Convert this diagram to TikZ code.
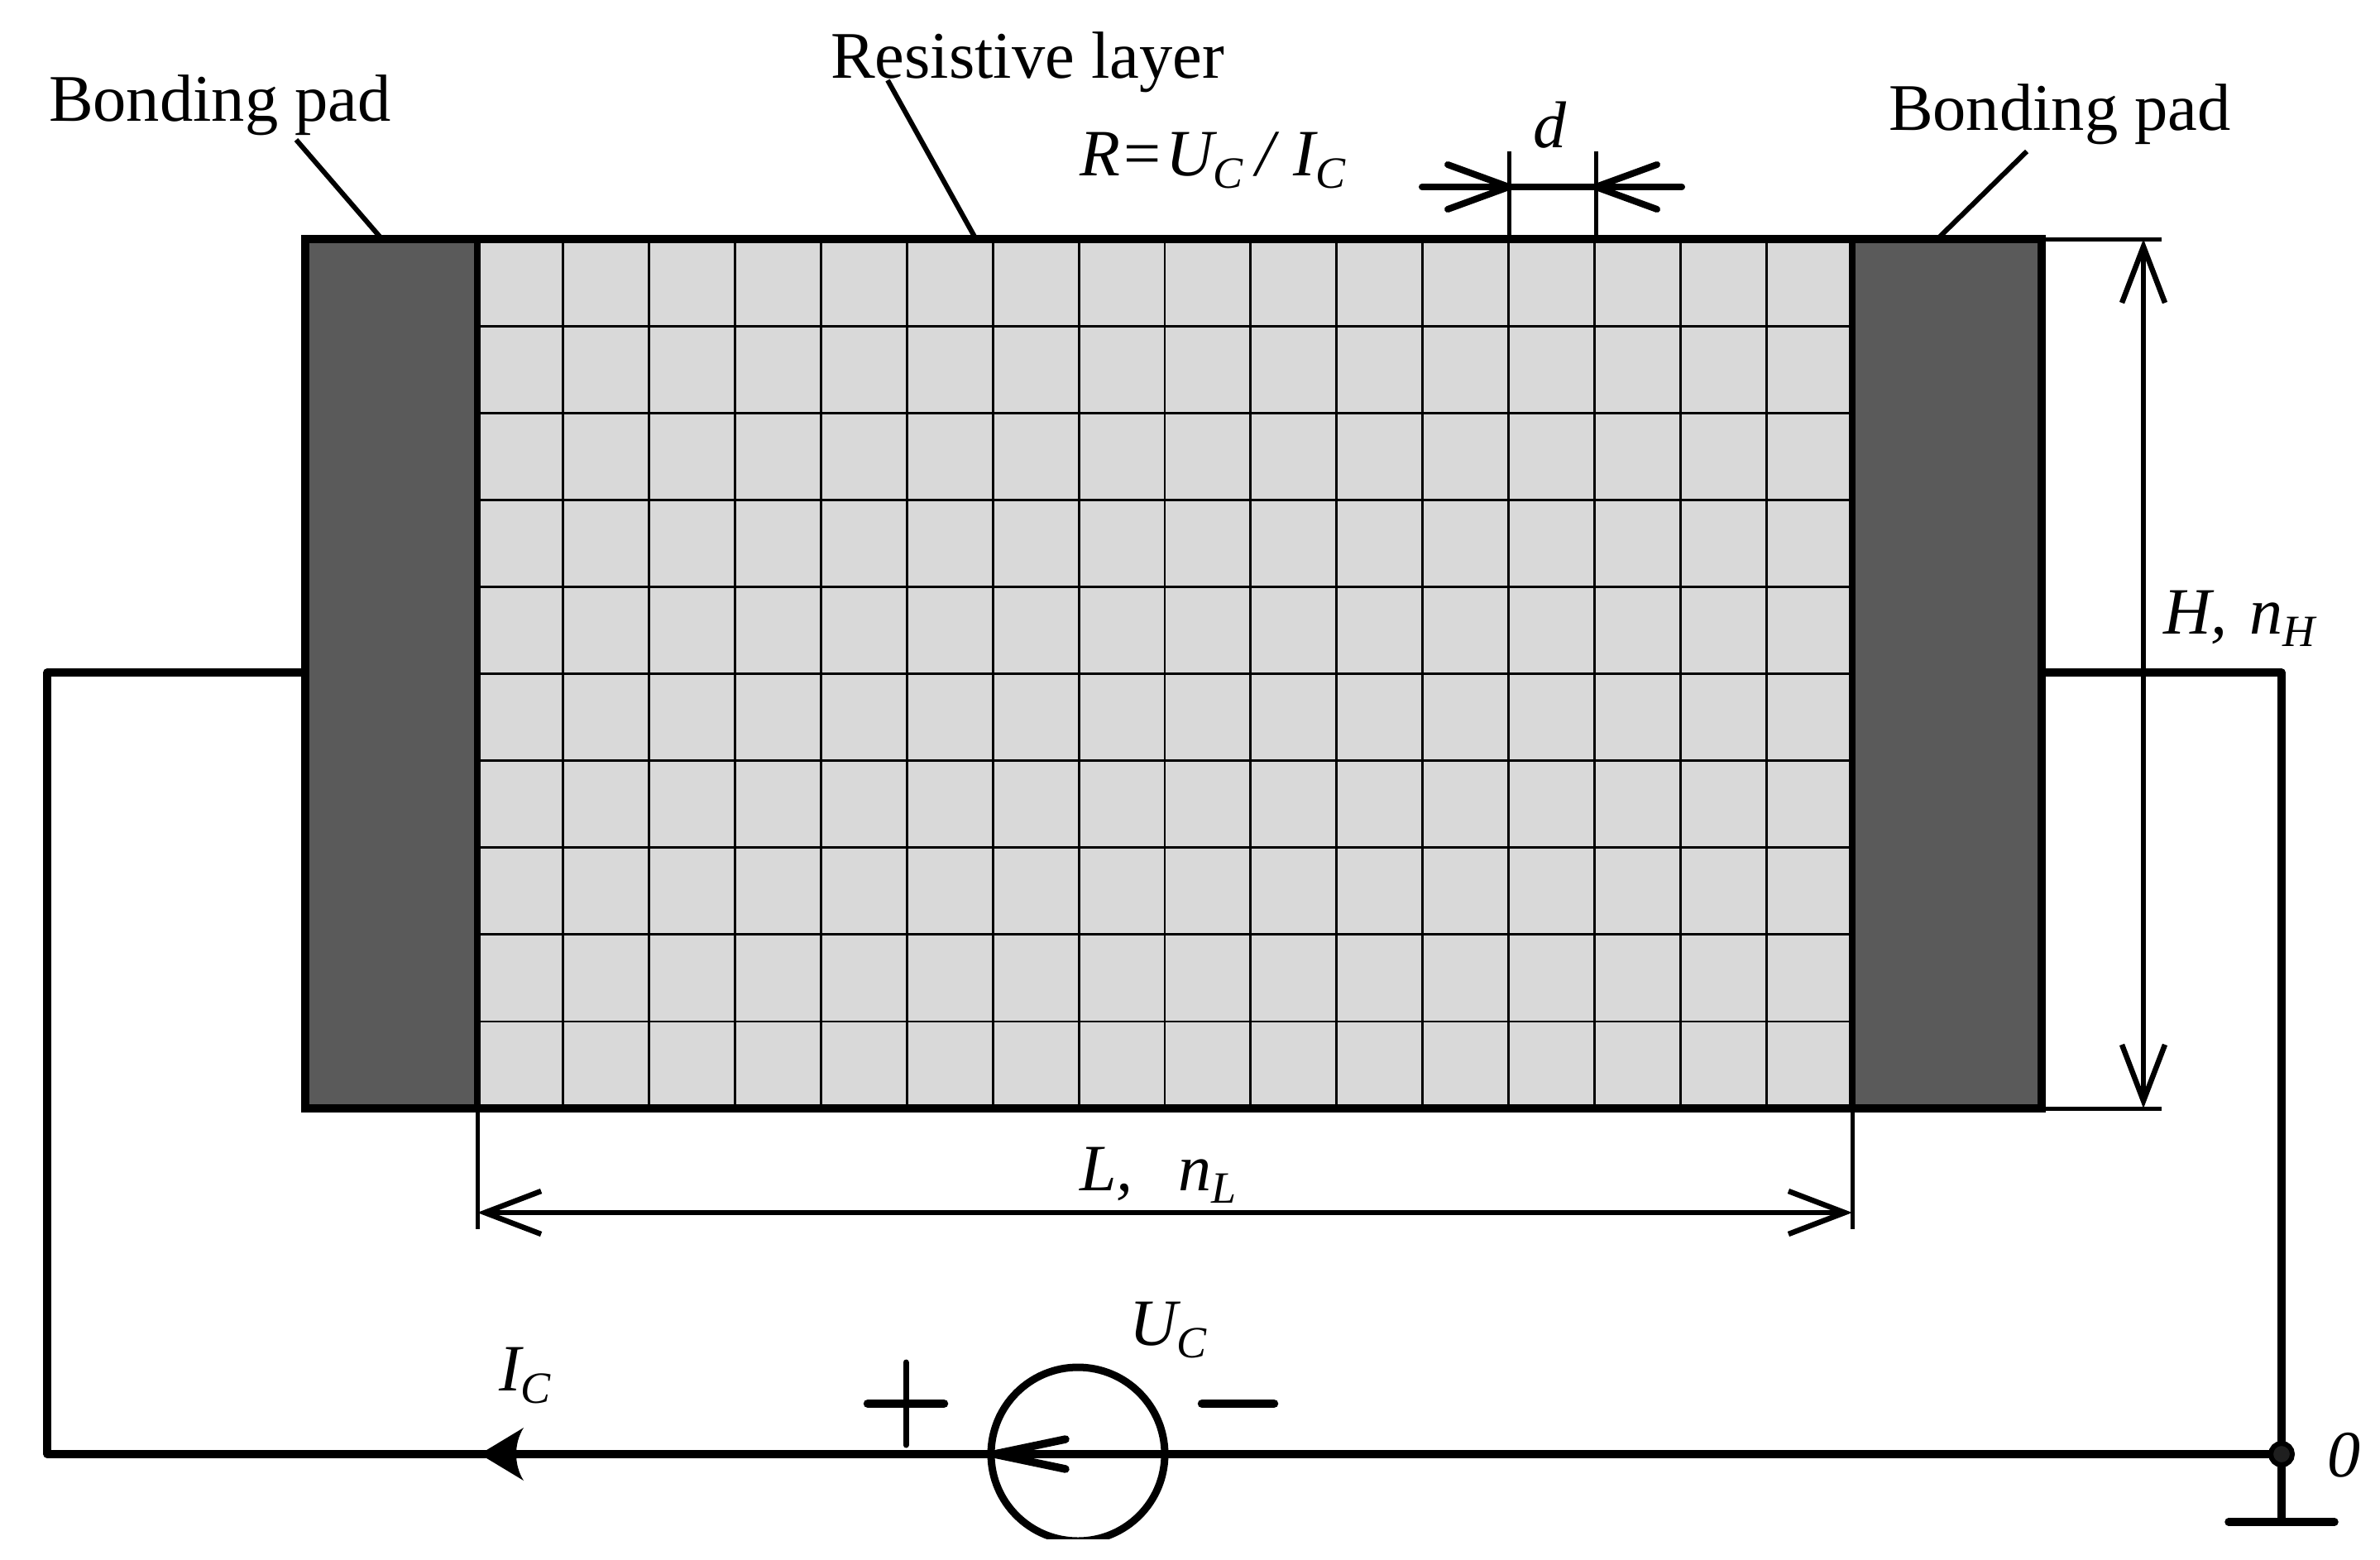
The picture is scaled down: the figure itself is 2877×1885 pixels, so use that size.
\documentclass[tikz,border=0pt]{standalone}
\usepackage{fontspec}
\setmainfont{Liberation Serif}
\usetikzlibrary{arrows.meta}
\newcommand{\lowsub}[1]{\raisebox{-15pt}{\fontsize{54}{54}\selectfont #1}}
\tikzset{
  x=1pt,y=-1pt,
  lbl/.style={anchor=base west,inner sep=0pt,outer sep=0pt,font=\fontsize{80.5}{80}\selectfont},
  var/.style={lbl,font=\fontsize{80}{80}\selectfont\itshape},
  outline/.style={line width=10.5pt,line join=miter},
  gridline/.style={line width=2.8pt,black},
  wire/.style={line width=9.5pt,line cap=round,line join=round},
  leader/.style={line width=6pt},
  extline/.style={line width=5pt},
  dimarrow/.style={line width=5.5pt,{Straight Barb[length=68pt,width=52pt,line width=6.5pt]}-{Straight Barb[length=68pt,width=52pt,line width=6.5pt]}},
  sign/.style={line width=10.5pt,line cap=round},
}
\definecolor{padgrey}{HTML}{5A5A5A}
\definecolor{layergrey}{HTML}{D9D9D9}
\begin{document}
\begin{tikzpicture}
\useasboundingbox (0,0) rectangle (2877,1885);
% key points
\coordinate (tl) at (369,289);
\coordinate (br) at (2468,1340);
\coordinate (gl) at (577,289);
\coordinate (gr) at (2239,1340);
% fills
\fill[padgrey] (369,289) rectangle (577,1340);
\fill[padgrey] (2239,289) rectangle (2468,1340);
\fill[layergrey] (577,289) rectangle (2239,1340);
% grid
\foreach \i in {1,...,15} \draw[gridline] ({577+\i*103.875},289) -- ({577+\i*103.875},1340);
\foreach \j in {1,...,9} \draw[gridline] (577,{289+\j*105.1}) -- (2239,{289+\j*105.1});
% outlines
\draw[outline] (tl) rectangle (br);
\draw[line width=8.5pt] (577,289) -- (577,1340);
\draw[line width=8.5pt] (2239,289) -- (2239,1340);
% circuit
\coordinate (wl) at (369,813);
\coordinate (wr) at (2468,813);
\coordinate (gnd) at (2758,1758);
\coordinate (gndb) at (2758,1840);
\draw[wire] (wl) -- (57,813) -- (57,1758) -- (gnd);
\draw[wire] (wr) -- (2758,813) -- (gnd) -- (gndb);
\draw[wire] (2694,1840) -- (2822,1840);
\draw[line width=6pt,fill=black!88] (gnd) circle (13);
% source
\coordinate (src) at (1303,1758);
\begin{scope}
\clip (1100,1600) rectangle (1500,1860);
\draw[line width=9pt] (src) circle (105);
\end{scope}
\draw[line width=9.5pt,line cap=round] (1288,1740) -- (1202,1758) -- (1288,1776);
% current arrow
\fill (580,1758) -- (633,1726) .. controls (621,1745) and (621,1771) .. (633,1790) -- cycle;
% signs
\draw[sign] (1049,1697) -- (1141,1697);
\draw[line width=7pt,line cap=round] (1095,1647) -- (1095,1747);
\draw[sign] (1453,1697) -- (1540,1697);
% labels
\node[lbl] (bpl) at (59,146) {Bonding pad};
\node[lbl] (res) at (1004,94) {Resistive layer};
\node[lbl] (bpr) at (2283,157) {Bonding pad};
\node[var] (rlab) at (1305,212) {R{\upshape\hspace{5pt}=\hspace{5pt}}U\lowsub{C}\hspace{16pt}/\hspace{23pt}I\lowsub{C}};
\node[var] (dlab) at (1853,178) {d};
\node[var] (hlab) at (2615,766) {H,\hspace{27pt}n\lowsub{H}};
\node[var] (llab) at (1305,1439) {L,\hspace{55pt}n\lowsub{L}};
\node[var] (uc) at (1365,1626) {U\lowsub{C}};
\node[var] (ic) at (603,1681) {I\lowsub{C}};
\node[var] (zero) at (2813,1785) {0};
% leaders
\coordinate (a1) at (358,169); \coordinate (a2) at (459,286);
\coordinate (b1) at (1073,97); \coordinate (b2) at (1178,286);
\coordinate (c1) at (2450,183); \coordinate (c2) at (2345,286);
\draw[leader] (a1) -- (a2);
\draw[leader] (b1) -- (b2);
\draw[leader] (c1) -- (c2);
% d dimension
\coordinate (d1) at (1824,183); \coordinate (d1b) at (1824,289);
\coordinate (d2) at (1929,183); \coordinate (d2b) at (1929,289);
\draw[extline] (d1) -- (d1b);
\draw[extline] (d2) -- (d2b);
\draw[line width=8pt,line cap=round] (1719,226) -- (2033,226);
\draw[line width=8pt,line cap=round] (1750,199) -- (1824,226) -- (1750,253);
\draw[line width=8pt,line cap=round] (2003,199) -- (1929,226) -- (2003,253);
% H dimension
\coordinate (h1) at (2591,289); \coordinate (h2) at (2591,1340);
\draw[extline] (2468,289) -- (2613,289);
\draw[extline] (2468,1340) -- (2613,1340);
\draw[dimarrow] (h1) -- (h2);
% L dimension
\coordinate (l1) at (577,1466); \coordinate (l2) at (2239,1466);
\draw[extline] (577,1340) -- (577,1486);
\draw[extline] (2239,1340) -- (2239,1486);
\draw[dimarrow] (l1) -- (l2);
\end{tikzpicture}
\end{document}
